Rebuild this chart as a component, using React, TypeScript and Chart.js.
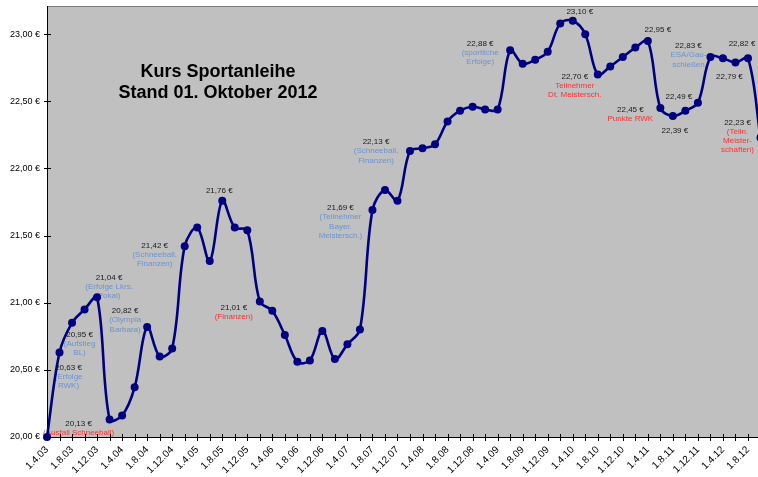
import React, { useEffect, useRef } from "react";
import { Chart, registerables } from "chart.js";

Chart.register(...registerables);

// Bimonthly observation dates (1.4.03 … 1.10.12)
const dates = [
  "1.4.03", "1.6.03", "1.8.03", "1.10.03", "1.12.03",
  "1.2.04", "1.4.04", "1.6.04", "1.8.04", "1.10.04", "1.12.04",
  "1.2.05", "1.4.05", "1.6.05", "1.8.05", "1.10.05", "1.12.05",
  "1.2.06", "1.4.06", "1.6.06", "1.8.06", "1.10.06", "1.12.06",
  "1.2.07", "1.4.07", "1.6.07", "1.8.07", "1.10.07", "1.12.07",
  "1.2.08", "1.4.08", "1.6.08", "1.8.08", "1.10.08", "1.12.08",
  "1.2.09", "1.4.09", "1.6.09", "1.8.09", "1.10.09", "1.12.09",
  "1.2.10", "1.4.10", "1.6.10", "1.8.10", "1.10.10", "1.12.10",
  "1.2.11", "1.4.11", "1.6.11", "1.8.11", "1.10.11", "1.12.11",
  "1.2.12", "1.4.12", "1.6.12", "1.8.12", "1.10.12",
];

// Kurs (EUR)
const kurs = [
  20.0, 20.63, 20.85, 20.95, 21.04,
  20.13, 20.16, 20.37, 20.82, 20.6, 20.66,
  21.42, 21.56, 21.31, 21.76, 21.56, 21.54,
  21.01, 20.94, 20.76, 20.56, 20.57, 20.79,
  20.58, 20.69, 20.8, 21.69, 21.84, 21.76,
  22.13, 22.15, 22.18, 22.35, 22.43, 22.46,
  22.44, 22.44, 22.88, 22.78, 22.81, 22.87,
  23.08, 23.1, 23.0, 22.7, 22.76, 22.83,
  22.9, 22.95, 22.45, 22.39, 22.43, 22.49,
  22.83, 22.82, 22.79, 22.82, 22.23,
];

// Labelled x ticks (every second tick)
const tickLabels = [
  "1.4.03", "1.8.03", "1.12.03", "1.4.04", "1.8.04", "1.12.04",
  "1.4.05", "1.8.05", "1.12.05", "1.4.06", "1.8.06", "1.12.06",
  "1.4.07", "1.8.07", "1.12.07", "1.4.08", "1.8.08", "1.12.08",
  "1.4.09", "1.8.09", "1.12.09", "1.4.10", "1.8.10", "1.12.10",
  "1.4.11", "1.8.11", "1.12.11", "1.4.12", "1.8.12",
];

const titleLines = ["Kurs Sportanleihe", "Stand 01. Oktober 2012"];

// Point annotations: index, comment lines and colour kind
const noteIndex = [5, 1, 3, 4, 8, 11, 14, 17, 26, 29, 37, 42, 44, 48, 49, 50, 52, 53, 56, 55, 57];
const noteText: string[][] = [
  ["(Ausfall Schneeball)"],
  ["(Erfolge", "RWK)"],
  ["(Aufstieg", "BL)"],
  ["(Erfolge Lkrs.", "Pokal)"],
  ["(Olympia", "Barbara)"],
  ["(Schneeball,", "Finanzen)"],
  [],
  ["(Finanzen)"],
  ["(Teilnehmer", "Bayer.", "Meistersch.)"],
  ["(Schneeball,", "Finanzen)"],
  ["(sportliche", "Erfolge)"],
  [],
  ["Teilnehmer", "Dt. Meistersch."],
  [],
  ["Punkte RWK"],
  [],
  [],
  ["ESA/Gau-", "schießen"],
  [],
  [],
  ["(Teiln.", "Meister-", "schaften)"],
];
const noteKind = ["r", "b", "b", "b", "b", "b", "", "r", "b", "b", "b", "", "r", "", "r", "", "", "b", "", "", "r"];

// label placement offsets relative to the point (px)
const noteOffset: [number, number][] = [
  [-31, 4], [9, 15], [-5, 25], [12, -20], [-22, -16], [-30, -1], [-3, -10],
  [-26, 6], [-32, -2], [-34, -9], [-30, -7], [7, -9], [-23, 2], [10, -11],
  [-30, 2], [2, 15], [-19, -6], [-22, -11], [-6, -15], [-6, 14], [-23, -15],
];

const fmt = (v: number) => v.toFixed(2).replace(".", ",") + " €";

const FONT = "'Liberation Sans', Arial, sans-serif";

export default function App() {
  const ref = useRef<HTMLCanvasElement | null>(null);

  useEffect(() => {
    document.body.style.margin = "0";
    const canvas = ref.current;
    if (!canvas) return;

    const bgPlugin = {
      id: "bgPlugin",
      beforeDraw(chart: any) {
        const { ctx, chartArea: a } = chart;
        ctx.save();
        ctx.fillStyle = "#ffffff";
        ctx.fillRect(0, 0, chart.width, chart.height);
        ctx.fillStyle = "#c0c0c0";
        ctx.fillRect(a.left, a.top, a.right - a.left, a.bottom - a.top);
        ctx.strokeStyle = "#808080";
        ctx.lineWidth = 1;
        ctx.beginPath();
        ctx.moveTo(a.left, a.top + 0.5);
        ctx.lineTo(a.right, a.top + 0.5);
        ctx.stroke();
        ctx.restore();
      },
      beforeDatasetsDraw(chart: any) {
        const { ctx, chartArea: a } = chart;
        const xs = chart.scales.x;
        const ys = chart.scales.y;
        ctx.save();
        // title
        ctx.fillStyle = "#000";
        ctx.font = `bold 18px ${FONT}`;
        ctx.textAlign = "center";
        ctx.textBaseline = "alphabetic";
        titleLines.forEach((t, k) => ctx.fillText(t, a.left + 171, a.top + 71 + k * 21));
        // annotations
        ctx.font = `8px ${FONT}`;
        ctx.textBaseline = "middle";
        noteIndex.forEach((idx, n) => {
          const px = xs.getPixelForValue(idx);
          const py = ys.getPixelForValue(kurs[idx]);
          const [dx, dy] = noteOffset[n];
          const cx = px + dx;
          let cy = py + dy;
          ctx.fillStyle = "#1a1a1a";
          ctx.fillText(fmt(kurs[idx]), cx, cy);
          noteText[n].forEach((line) => {
            cy += 9.2;
            ctx.fillStyle = noteKind[n] === "r" ? "#ff3030" : "#6a93d2";
            ctx.fillText(line, cx, cy);
          });
        });
        ctx.restore();
      },
      afterDraw(chart: any) {
        const { ctx, chartArea: a } = chart;
        const xs = chart.scales.x;
        const ys = chart.scales.y;
        ctx.save();
        ctx.strokeStyle = "#000";
        ctx.lineWidth = 1;
        ctx.beginPath();
        xs.ticks.forEach((t: any) => {
          const x = Math.round(xs.getPixelForValue(t.value)) + 0.5;
          ctx.moveTo(x, a.bottom - 3);
          ctx.lineTo(x, a.bottom + 4);
        });
        ys.ticks.forEach((t: any) => {
          const y = Math.round(ys.getPixelForValue(t.value)) + 0.5;
          ctx.moveTo(a.left - 3, y);
          ctx.lineTo(a.left + 4, y);
        });
        ctx.stroke();
        ctx.restore();
      },
    };

    const chart = new Chart(canvas, {
      type: "line",
      data: {
        datasets: [
          {
            label: "Kurs",
            data: kurs.map((v, i) => ({ x: i, y: v, d: dates[i] })) as any,
            borderColor: "#000080",
            backgroundColor: "#000080",
            borderWidth: 2.6,
            pointRadius: 4,
            pointHoverRadius: 4,
            pointBackgroundColor: "#000080",
            pointBorderColor: "#000080",
            pointBorderWidth: 0,
            tension: 0.35,
            clip: false as any,
          },
        ],
      },
      options: {
        animation: false,
        responsive: false,
        maintainAspectRatio: false,
        events: [],
        layout: { autoPadding: false, padding: { top: 6, right: 0, left: 0, bottom: 0 } } as any,
        plugins: {
          legend: { display: false },
          title: { display: false },
          tooltip: { enabled: false },
        },
        scales: {
          x: {
            type: "linear",
            min: 0,
            max: 56.8,
            grid: { display: false, drawTicks: false },
            border: { display: true, color: "#000", width: 1 },
            ticks: {
              stepSize: 1,
              autoSkip: false,
              includeBounds: false,
              maxRotation: 45,
              minRotation: 45,
              padding: 7,
              color: "#000",
              font: { family: FONT, size: 10 },
              callback: (v: any) => {
                const n = Number(v);
                if (!Number.isInteger(n) || n % 2 !== 0) return "";
                return tickLabels[n / 2] ?? "";
              },
            },
            afterFit: (s: any) => {
              s.height = 40;
              s.paddingRight = 0;
              s.paddingLeft = 0;
            },
          },
          y: {
            min: 20,
            max: 23.21,
            grid: { display: false, drawTicks: false },
            border: { display: true, color: "#000", width: 1 },
            ticks: {
              stepSize: 0.5,
              includeBounds: false,
              padding: 7,
              color: "#000",
              font: { family: FONT, size: 9 },
              callback: (v: any) => {
                const n = Number(v);
                if (Math.abs(n * 2 - Math.round(n * 2)) > 1e-6) return "";
                return fmt(n);
              },
            },
            afterFit: (s: any) => {
              s.width = 47;
              s.paddingTop = 0;
              s.paddingBottom = 0;
            },
          },
        },
      },
      plugins: [bgPlugin],
    });

    return () => chart.destroy();
  }, []);

  return (
    <div style={{ width: 758, height: 477, overflow: "hidden" }}>
      <canvas ref={ref} width={758} height={477} style={{ display: "block" }} />
    </div>
  );
}
